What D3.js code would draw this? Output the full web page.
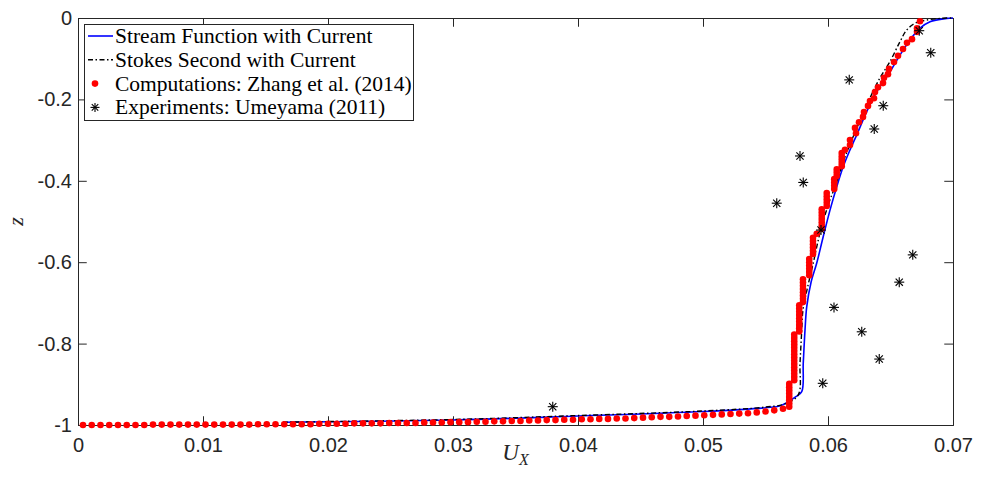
<!DOCTYPE html>
<html>
<head>
<meta charset="utf-8">
<script src="https://cdn.jsdelivr.net/npm/d3@7"></script>
<style>
  body { margin: 0; background: #fff; }
  svg { display: block; }
</style>
</head>
<body>
<div id="chart"></div>
<script>
// Axis ticks
const xTicks = [0, 0.01, 0.02, 0.03, 0.04, 0.05, 0.06, 0.07];
const yTicks = [0, -0.2, -0.4, -0.6, -0.8, -1];

// Stream Function with Current [U_X, z]
const streamFn = [
  [0.0164, -0.9934], [0.030, -0.9877], [0.040, -0.978], [0.050, -0.967], [0.055, -0.9575],
  [0.0562, -0.9526], [0.0574, -0.931], [0.0579, -0.918], [0.05802, -0.848], [0.05816, -0.767],
  [0.0583, -0.709], [0.05864, -0.650], [0.0591, -0.602], [0.05962, -0.537], [0.06016, -0.472],
  [0.0607, -0.4145], [0.06122, -0.365], [0.06176, -0.324], [0.0623, -0.287], [0.0631, -0.230],
  [0.0639, -0.181], [0.06496, -0.132], [0.06576, -0.091], [0.06656, -0.054], [0.06736, -0.025],
  [0.06816, -0.009], [0.0695, -0.001], [0.070, 0]
];

// Stokes Second with Current [U_X, z]
const stokes2 = [
  [0.0164, -0.993], [0.030, -0.9865], [0.040, -0.9767], [0.050, -0.9656], [0.055, -0.956],
  [0.05656, -0.948], [0.05762, -0.926], [0.05776, -0.848], [0.0579, -0.767], [0.058, -0.717],
  [0.05832, -0.668], [0.05882, -0.602], [0.05936, -0.528], [0.06002, -0.459], [0.06056, -0.4145],
  [0.0611, -0.365], [0.06152, -0.3285], [0.06336, -0.1966], [0.06416, -0.147], [0.06496, -0.107],
  [0.06576, -0.058], [0.0663, -0.0295], [0.06696, -0.013], [0.0679, -0.005], [0.0695, 0], [0.070, 0]
];

// Computations: Zhang et al. (2014) [U_X, z]
const zhangBottom = [
  [0.0004, -1.000], [0.0011, -1.000], [0.0018, -1.000], [0.0025, -1.000], [0.0032, -1.000],
  [0.0039, -1.000], [0.0046, -1.000], [0.0053, -1.000], [0.0060, -0.999], [0.0067, -0.999],
  [0.0074, -0.999], [0.0081, -0.999], [0.0088, -0.999], [0.0095, -0.999], [0.0102, -0.999],
  [0.0109, -0.999], [0.0116, -0.999], [0.0123, -0.999], [0.0130, -0.999], [0.0137, -0.999],
  [0.0144, -0.998], [0.0151, -0.998], [0.0158, -0.998], [0.0165, -0.998], [0.0172, -0.998],
  [0.0179, -0.998], [0.0186, -0.998], [0.0193, -0.997], [0.0200, -0.997], [0.0207, -0.997],
  [0.0214, -0.997], [0.0221, -0.996], [0.0228, -0.996], [0.0235, -0.996], [0.0242, -0.996],
  [0.0249, -0.995], [0.0256, -0.995], [0.0263, -0.995], [0.0270, -0.995], [0.0277, -0.994],
  [0.0284, -0.994], [0.0291, -0.994], [0.0298, -0.993], [0.0305, -0.993], [0.0312, -0.993],
  [0.0319, -0.992], [0.0326, -0.992], [0.0333, -0.991], [0.0340, -0.991], [0.0347, -0.990],
  [0.0354, -0.990], [0.0361, -0.989], [0.0368, -0.989], [0.0375, -0.988], [0.0382, -0.988],
  [0.0389, -0.987], [0.0396, -0.987], [0.0403, -0.986], [0.0410, -0.986], [0.0417, -0.985],
  [0.0424, -0.985], [0.0431, -0.984], [0.0438, -0.984], [0.0445, -0.983], [0.0452, -0.982],
  [0.0459, -0.981], [0.0466, -0.980], [0.0473, -0.980], [0.0480, -0.979], [0.0487, -0.978],
  [0.0494, -0.977], [0.0501, -0.976], [0.0508, -0.975], [0.0515, -0.974], [0.0522, -0.973],
  [0.0529, -0.972], [0.0536, -0.971], [0.0543, -0.969], [0.0550, -0.967], [0.0557, -0.964],
  [0.0564, -0.960]
];
const zhangSteep = [
  [0.0569, -0.955], [0.0569, -0.947], [0.0569, -0.939], [0.0569, -0.931], [0.0569, -0.923],
  [0.0569, -0.915], [0.0569, -0.907], [0.0569, -0.899],
  [0.0573, -0.890], [0.0573, -0.882], [0.0573, -0.874], [0.0573, -0.866], [0.0573, -0.858],
  [0.0573, -0.850], [0.0573, -0.842], [0.0573, -0.834], [0.0573, -0.826], [0.0573, -0.818],
  [0.0573, -0.810], [0.0573, -0.802], [0.0573, -0.794], [0.0573, -0.786], [0.0573, -0.778],
  [0.0577, -0.770], [0.0577, -0.762], [0.0577, -0.754], [0.0577, -0.746], [0.0577, -0.738],
  [0.0577, -0.730], [0.0577, -0.722], [0.0577, -0.714], [0.0577, -0.706],
  [0.0580, -0.698], [0.0580, -0.690], [0.0580, -0.682], [0.0580, -0.674], [0.0580, -0.666],
  [0.0580, -0.658], [0.0580, -0.650], [0.0580, -0.642],
  [0.0585, -0.632], [0.0585, -0.624], [0.0585, -0.616], [0.0585, -0.608], [0.0585, -0.600],
  [0.0585, -0.592],
  [0.0588, -0.580], [0.0588, -0.572], [0.0588, -0.564], [0.0588, -0.556], [0.0588, -0.548],
  [0.0588, -0.540], [0.0591, -0.530],
  [0.0595, -0.518], [0.0595, -0.510], [0.0595, -0.502], [0.0595, -0.494], [0.0595, -0.486],
  [0.0595, -0.478], [0.0595, -0.470],
  [0.0599, -0.462], [0.0599, -0.454], [0.0599, -0.446], [0.0599, -0.438], [0.0599, -0.430],
  [0.0605, -0.420], [0.0605, -0.412], [0.0605, -0.404], [0.0605, -0.396],
  [0.0607, -0.388], [0.0607, -0.380], [0.0607, -0.372],
  [0.0611, -0.364], [0.0611, -0.356], [0.0611, -0.348], [0.0611, -0.340], [0.0611, -0.332]
];
const zhangTop = [
  [0.06136, -0.324], [0.06176, -0.312], [0.06176, -0.300], [0.06224, -0.283], [0.06216, -0.270],
  [0.06248, -0.256], [0.0628, -0.243], [0.06288, -0.231], [0.0632, -0.216], [0.06336, -0.204],
  [0.06368, -0.197], [0.06376, -0.182], [0.0640, -0.170], [0.0644, -0.160], [0.06448, -0.147],
  [0.0648, -0.138], [0.06488, -0.125], [0.06528, -0.108], [0.0656, -0.093], [0.0660, -0.076],
  [0.06632, -0.061], [0.06672, -0.052], [0.06712, -0.034], [0.06712, -0.025], [0.06736, -0.008]
];

// Experiments: Umeyama (2011) [U_X, z]
const umeyama = [
  [0.03798, -0.955], [0.0559, -0.455], [0.05776, -0.339], [0.05802, -0.404], [0.05944, -0.521],
  [0.0617, -0.152], [0.06442, -0.2155], [0.0637, -0.2727], [0.06822, -0.0853], [0.0673, -0.0312],
  [0.06678, -0.582], [0.0657, -0.649], [0.06048, -0.711], [0.0627, -0.771], [0.0641, -0.838],
  [0.05958, -0.8976]
];

const width = 989, height = 494;
const margin = {left: 78, top: 18, right: 36, bottom: 69};
const axisColor = "#262626";
const tickLen = 8.75;

const svg = d3.select("#chart").append("svg")
  .attr("width", width)
  .attr("height", height);

const x = d3.scaleLinear().domain([0, 0.07]).range([margin.left, width - margin.right]);
const y = d3.scaleLinear().domain([-1, 0]).range([height - margin.bottom, margin.top]);

const fmt = d => d === 0 ? "0" : String(+d.toFixed(2));

// axes: labelled on bottom/left, tick-only on top/right (MATLAB box)
const gx = svg.append("g")
  .attr("transform", `translate(0,${y(-1)})`)
  .call(d3.axisBottom(x).tickValues(xTicks).tickFormat(fmt).tickSize(-tickLen).tickPadding(13));
const gy = svg.append("g")
  .attr("transform", `translate(${x(0)},0)`)
  .call(d3.axisLeft(y).tickValues(yTicks).tickFormat(fmt).tickSize(-tickLen).tickPadding(6));
const gxTop = svg.append("g")
  .attr("transform", `translate(0,${y(0)})`)
  .call(d3.axisTop(x).tickValues(xTicks).tickFormat("").tickSize(-tickLen));
const gyRight = svg.append("g")
  .attr("transform", `translate(${x(0.07)},0)`)
  .call(d3.axisRight(y).tickValues(yTicks).tickFormat("").tickSize(-tickLen));

[gx, gy, gxTop, gyRight].forEach(g => {
  g.select(".domain").attr("stroke", axisColor).attr("stroke-width", 1);
  g.selectAll(".tick line").attr("stroke", axisColor).attr("stroke-width", 1);
  g.selectAll(".tick text")
    .attr("fill", axisColor)
    .style("font-family", "'Liberation Sans', Arial, sans-serif")
    .style("font-size", "20px");
});

// curves
const line = d3.line()
  .x(d => x(d[0]))
  .y(d => y(d[1]))
  .curve(d3.curveCatmullRom.alpha(0.5));

svg.append("path")
  .datum(streamFn)
  .attr("d", line)
  .attr("fill", "none")
  .attr("stroke", "#0000ff")
  .attr("stroke-width", 1.6);

svg.append("path")
  .datum(stokes2)
  .attr("d", line)
  .attr("fill", "none")
  .attr("stroke", "#000")
  .attr("stroke-width", 1.4)
  .attr("stroke-dasharray", "5,2.5,1.5,2.5");

// red dots
const zhang = zhangBottom.concat(zhangSteep, zhangTop);
svg.append("g").selectAll("circle")
  .data(zhang)
  .join("circle")
  .attr("cx", d => x(d[0]))
  .attr("cy", d => y(d[1]))
  .attr("r", 3.3)
  .attr("fill", "#ff0000");

// asterisk markers
function asterisk(g, s) {
  const d = s * 0.72;
  g.append("line").attr("x1", -s).attr("x2", s).attr("y1", 0).attr("y2", 0);
  g.append("line").attr("x1", 0).attr("x2", 0).attr("y1", -s).attr("y2", s);
  g.append("line").attr("x1", -d).attr("x2", d).attr("y1", -d).attr("y2", d);
  g.append("line").attr("x1", -d).attr("x2", d).attr("y1", d).attr("y2", -d);
}
svg.append("g").selectAll("g")
  .data(umeyama)
  .join("g")
  .attr("transform", d => `translate(${x(d[0])},${y(d[1])})`)
  .attr("stroke", "#000")
  .attr("stroke-width", 1.1)
  .each(function() { asterisk(d3.select(this), 5); });

// axis labels
const serif = "'Liberation Serif', 'Times New Roman', serif";
const xl = svg.append("text")
  .attr("x", (x(0) + x(0.07)) / 2)
  .attr("y", 460)
  .attr("text-anchor", "middle")
  .style("font-family", serif)
  .style("font-style", "italic")
  .style("font-size", "23px")
  .attr("fill", axisColor);
xl.append("tspan").text("U");
xl.append("tspan").attr("dy", 5).style("font-size", "16px").text("X");

svg.append("text")
  .attr("transform", `translate(23,${(y(0) + y(-1)) / 2}) rotate(-90)`)
  .attr("text-anchor", "middle")
  .style("font-family", serif)
  .style("font-style", "italic")
  .style("font-size", "22px")
  .attr("fill", axisColor)
  .text("z");

// legend
const legend = svg.append("g");
legend.append("rect")
  .attr("x", 84.5).attr("y", 24.5)
  .attr("width", 329).attr("height", 96)
  .attr("fill", "#fff")
  .attr("stroke", axisColor)
  .attr("stroke-width", 1);

const legendRows = [
  {label: "Stream Function with Current", kind: "blue"},
  {label: "Stokes Second with Current", kind: "dash"},
  {label: "Computations: Zhang et al. (2014)", kind: "dot"},
  {label: "Experiments: Umeyama (2011)", kind: "star"}
];
legendRows.forEach((r, i) => {
  const cy = 36 + i * 23.8;
  if (r.kind === "blue") {
    legend.append("line").attr("x1", 88).attr("x2", 113).attr("y1", cy).attr("y2", cy)
      .attr("stroke", "#0000ff").attr("stroke-width", 1.6);
  } else if (r.kind === "dash") {
    legend.append("line").attr("x1", 88).attr("x2", 113).attr("y1", cy).attr("y2", cy)
      .attr("stroke", "#000").attr("stroke-width", 1.4).attr("stroke-dasharray", "5,2.5,1.5,2.5");
  } else if (r.kind === "dot") {
    legend.append("circle").attr("cx", 95).attr("cy", cy).attr("r", 3.3).attr("fill", "#ff0000");
  } else {
    const g = legend.append("g").attr("transform", `translate(95,${cy})`)
      .attr("stroke", "#000").attr("stroke-width", 1.1);
    asterisk(g, 4.5);
  }
  legend.append("text")
    .attr("x", 115)
    .attr("y", cy)
    .attr("dy", "0.33em")
    .style("font-family", serif)
    .style("font-size", "21.5px")
    .attr("fill", "#000")
    .text(r.label);
});
</script>
</body>
</html>
